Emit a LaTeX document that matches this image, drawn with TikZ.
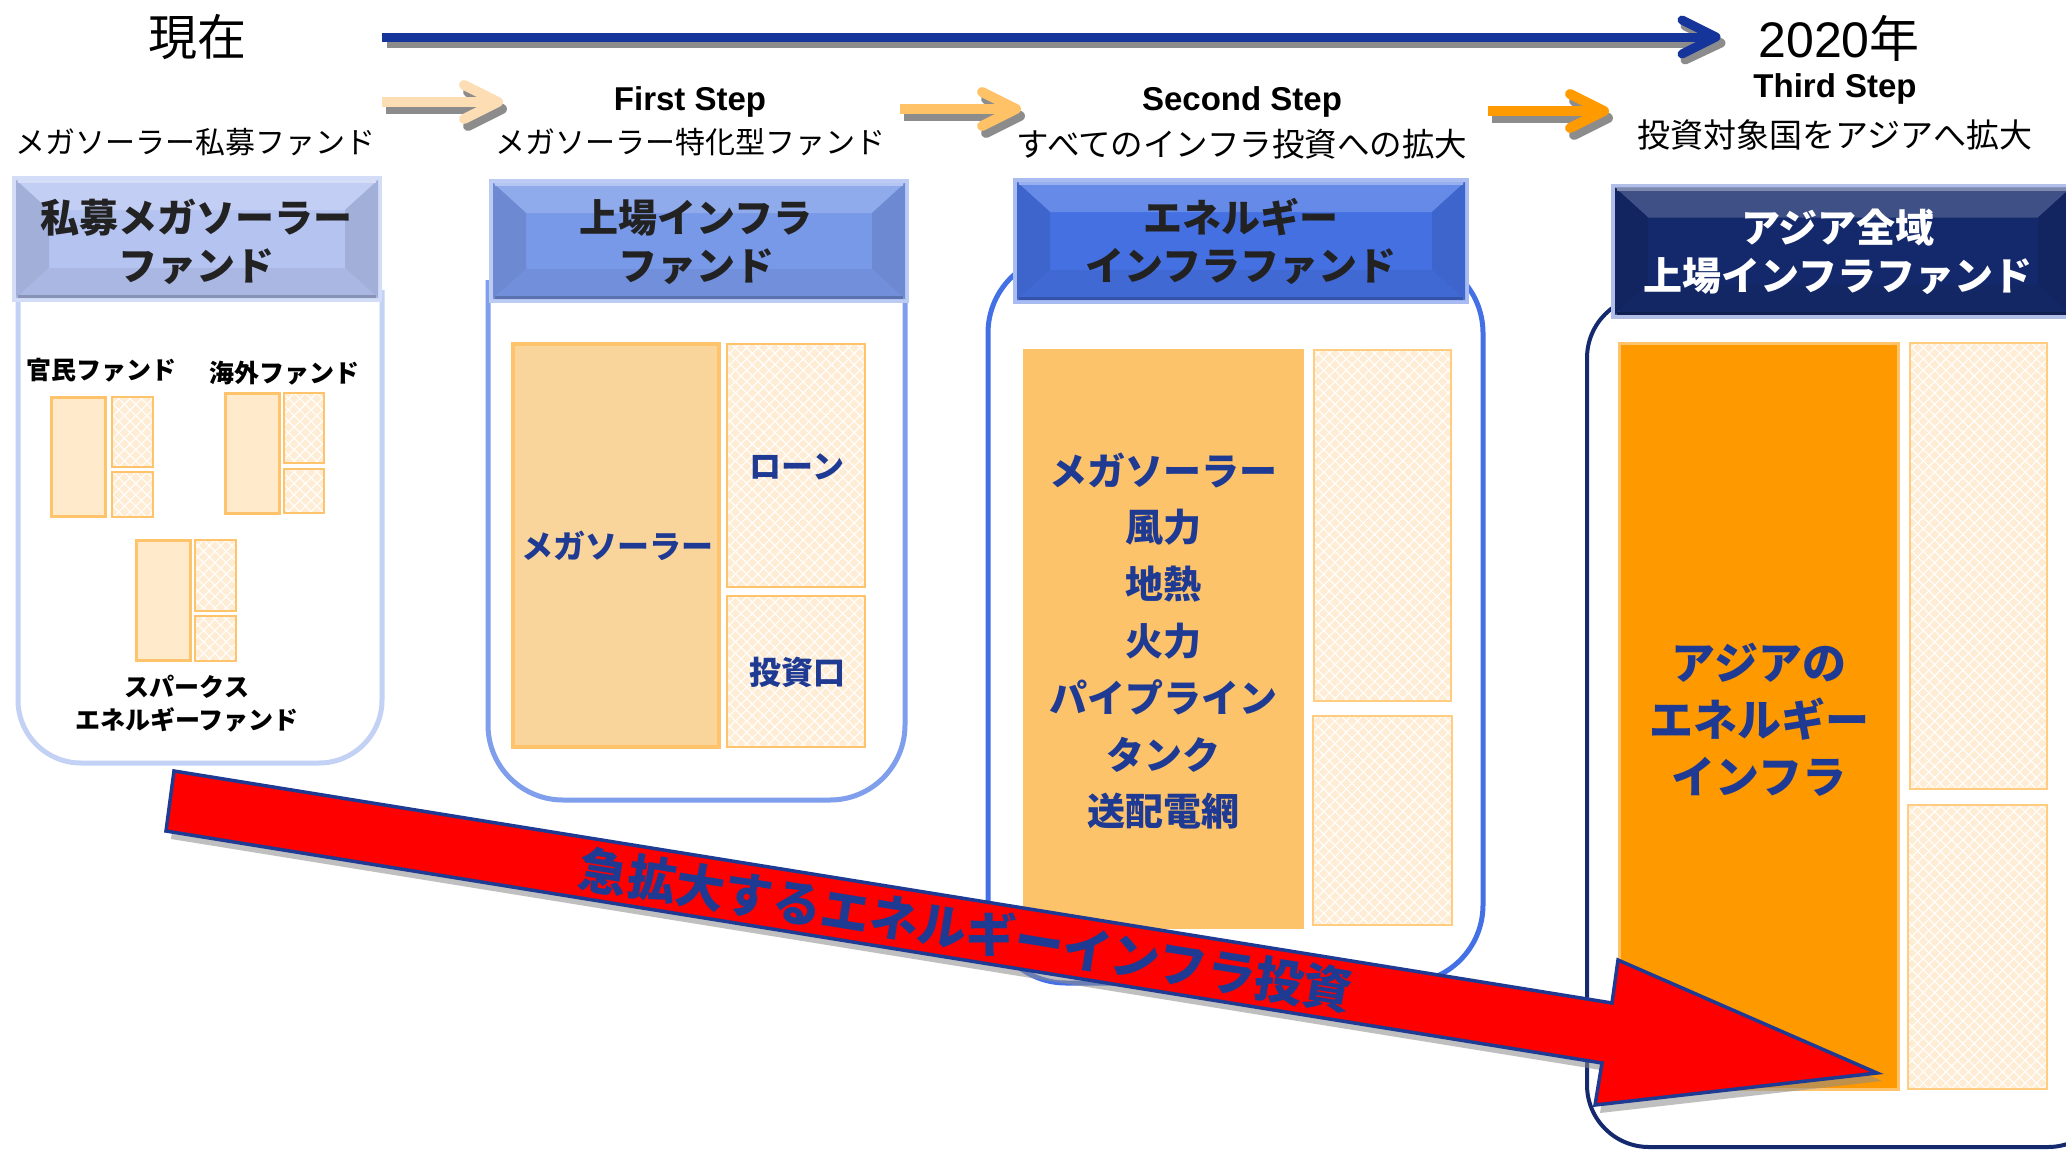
\documentclass[tikz,border=0pt]{standalone}
\usepackage{fontspec}
\setmainfont{Liberation Sans}
\newfontfamily\jp{Noto Sans CJK JP}
\usetikzlibrary{calc,patterns.meta}
\definecolor{tlblue}{HTML}{15359A}
\definecolor{shad}{HTML}{8C8C8C}
\definecolor{stepa}{HTML}{FDDDB4}
\definecolor{stepb}{HTML}{FFC266}
\definecolor{stepc}{HTML}{FF9A00}
\definecolor{txtblue}{HTML}{1F3A93}
\definecolor{hdrink}{HTML}{222222}
% header colours
\definecolor{hAm}{HTML}{B4C3F0}\definecolor{hAg}{HTML}{D3DDF8}
\definecolor{hBm}{HTML}{7898E8}\definecolor{hBg}{HTML}{BCCBF4}
\definecolor{hCm}{HTML}{4470E2}\definecolor{hCg}{HTML}{A8BCF2}
\definecolor{hDm}{HTML}{14296C}\definecolor{hDg}{HTML}{B0BEE8}
% container borders
\definecolor{cA}{HTML}{C3D1F5}
\definecolor{cB}{HTML}{7F9EEC}
\definecolor{cC}{HTML}{4470E6}
\definecolor{cD}{HTML}{14296E}
% boxes
\definecolor{boxbd}{HTML}{FFC46B}
\definecolor{boxlt}{HTML}{FFEACC}
\definecolor{boxmid}{HTML}{FAD59B}
\definecolor{boxstr}{HTML}{FDC36B}
\definecolor{boxor}{HTML}{FF9900}
\definecolor{hatchbase}{HTML}{FEECD4}
\definecolor{hatchbd}{HTML}{FFCC80}

% bevel of a header node: #1 node, #2 main colour
\newcommand{\hdrbevel}[2]{%
  \fill[#2!82!white] (#1.north west) -- (#1.north east) -- ($(#1.north east)+(-33,30)$) -- ($(#1.north west)+(33,30)$) -- cycle;
  \fill[#2!90!black] (#1.north west) -- ($(#1.north west)+(33,30)$) -- ($(#1.south west)+(33,-30)$) -- (#1.south west) -- cycle;
  \fill[#2!90!black] (#1.north east) -- ($(#1.north east)+(-33,30)$) -- ($(#1.south east)+(-33,-30)$) -- (#1.south east) -- cycle;
  \fill[#2!94!black] (#1.south west) -- ($(#1.south west)+(33,-30)$) -- ($(#1.south east)+(-33,-30)$) -- (#1.south east) -- cycle;
  \draw[#2!55!white, line width=3pt] ($(#1.north west)+(2,1.5)$) -- ($(#1.north east)+(-2,1.5)$);
  \draw[#2!75!black, line width=3pt] ($(#1.south west)+(2,-1.5)$) -- ($(#1.south east)+(-2,-1.5)$);
}

\begin{document}
\begin{tikzpicture}[x=1pt,y=-1pt,
  lbl/.style={inner sep=0pt, outer sep=0pt},
  toptxt/.style={lbl, font=\jp\fontsize{30}{36}\selectfont},
  steptxt/.style={lbl, anchor=base, font=\bfseries\fontsize{33}{40}\selectfont},
  hdrtxt/.style={lbl, align=center, font=\jp\bfseries\fontsize{39}{48}\selectfont, text=hdrink},
  hdr/.style={inner sep=0pt, outer sep=0pt, line width=8pt},
  sz/.style 2 args={minimum width=#1pt, minimum height=#2pt},
  cont/.style={fill=white, line width=5pt},
  ltbox/.style={fill=boxlt, draw=boxbd, line width=3pt, inner sep=0pt, outer sep=0pt},
  hatched/.style={preaction={fill=hatchbase},
     preaction={pattern={Lines[angle=45,distance=8pt,line width=1.1pt]}, pattern color=white},
     pattern={Lines[angle=-45,distance=8pt,line width=1.1pt]}, pattern color=white},
  htbox/.style={hatched, draw=boxbd, line width=2.5pt, inner sep=0pt, outer sep=0pt},
  htbox2/.style={hatched, draw=hatchbd, line width=2.5pt, inner sep=0pt, outer sep=0pt},
  p1lbl/.style={lbl, font=\jp\bfseries\fontsize{25}{33}\selectfont, text=black},
  intxt/.style={lbl, align=center, text=txtblue},
  tline/.style={draw=tlblue, line width=9pt},
  tshad/.style={draw=shad, line width=9pt},
  stepline/.style={line width=10pt, line join=round},
  arrowtxt/.style={lbl, font=\jp\bfseries\fontsize{49}{49}\selectfont, text=txtblue}
]
\fill[white] (0,0) rectangle (2066,1151);
\useasboundingbox (0,0) rectangle (2066,1151);

% ---------- top texts ----------
\node[lbl, font=\jp\fontsize{49}{49}\selectfont] (now) at (197,37) {現在};
\node[lbl, anchor=base, font=\fontsize{50}{50}\selectfont] (y2020) at (1839,57) {2020{\jp 年}};

\node[toptxt] (s0) at (195,142) {メガソーラー私募ファンド};
\node[steptxt] (s1h) at (690,110) {First Step};
\node[toptxt] (s1) at (690,142) {メガソーラー特化型ファンド};
\node[steptxt] (s2h) at (1242,110) {Second Step};
\node[toptxt, font=\jp\fontsize{32.5}{36}\selectfont] (s2) at (1242,144) {すべてのインフラ投資への拡大};
\node[steptxt] (s3h) at (1835,97) {Third Step};
\node[toptxt, font=\jp\fontsize{33}{36}\selectfont] (s3) at (1835,135) {投資対象国をアジアへ拡大};

% ---------- timeline arrow ----------
\coordinate (t0) at (382,37);
\coordinate (t1) at (1716,37);
\draw[tshad] ($(t0)+(5,6)$) -- ($(t1)+(0,6)$);
\draw[tshad, line join=round, line cap=round] ($(t1)+(-31,-11)$) -- ($(t1)+(5,6)$) -- ($(t1)+(-31,23)$);
\draw[tline] (t0) -- ($(t1)+(-4,0)$);
\draw[tline, line join=round, line cap=round] ($(t1)+(-34,-17)$) -- (t1) -- ($(t1)+(-34,17)$);

% ---------- step arrows ----------
\coordinate (a1s) at (382,102); \coordinate (a1e) at (498,102);
\coordinate (a2s) at (900,109); \coordinate (a2e) at (1016,109);
\coordinate (a3s) at (1488,111); \coordinate (a3e) at (1604,111);
\foreach \s/\e/\c in {a1s/a1e/stepa, a2s/a2e/stepb, a3s/a3e/stepc}{
  \draw[stepline, draw=shad] ($(\s)+(4,7)$) -- ($(\e)+(0,7)$);
  \draw[stepline, draw=shad, line cap=round] ($(\e)+(-30,-10)$) -- ($(\e)+(4,7)$) -- ($(\e)+(-30,24)$);
  \draw[stepline, draw=\c] (\s) -- ($(\e)+(-4,0)$);
  \draw[stepline, draw=\c, line cap=round] ($(\e)+(-34,-17)$) -- (\e) -- ($(\e)+(-34,17)$);
}

% ---------- containers ----------
\filldraw[cont, draw=cA] (18,290) {[rounded corners=63pt] -- (18,763) -- (382,763) -- (382,290)};
\filldraw[cont, draw=cB] (488,280) {[rounded corners=75pt] -- (488,800) -- (905,800) -- (905,280)};
\filldraw[cont, draw=cC, rounded corners=78pt] (988,255) rectangle (1483,983);
\filldraw[cont, draw=cD, line width=4pt, rounded corners=62pt] (1587,296) rectangle (2110,1147);

% ---------- headers ----------
\node[hdr, fill=hAm, draw=hAg, sz={362}{118}] (h1) at (197,239) {};
\hdrbevel{h1}{hAm}
\node[hdrtxt] (h1t) at (196,242) {私募メガソーラー\\ファンド};

\node[hdr, fill=hBm, draw=hBg, sz={412}{116}] (h2) at (699,241) {};
\hdrbevel{h2}{hBm}
\node[hdrtxt] (h2t) at (696,242) {上場インフラ\\ファンド};

\node[hdr, fill=hCm, draw=hCg, sz={448}{118}] (h3) at (1241,241) {};
\hdrbevel{h3}{hCm}
\node[hdrtxt] (h3t) at (1241,241) {エネルギー\\インフラファンド};

\node[hdr, fill=hDm, draw=hDg, sz={456}{127}] (h4) at (1843,251) {};
\hdrbevel{h4}{hDm}
\node[hdrtxt, text=white] (h4t) at (1838,252) {アジア全域\\上場インフラファンド};

% ---------- panel 1 ----------
\node[p1lbl] (l1) at (101,370) {官民ファンド};
\node[p1lbl] (l2) at (284,373) {海外ファンド};
\node[p1lbl, align=center] (l3) at (187,704) {スパークス\\エネルギーファンド};

\node[ltbox, sz={54}{119}] (a1) at (78,456.5) {};
\node[htbox, sz={41}{70}] (a2) at (132.5,432) {};
\node[htbox, sz={41}{45}] (a3) at (132.5,494.5) {};
\node[ltbox, sz={54}{120}] (b1) at (252,453) {};
\node[htbox, sz={40}{70}] (b2) at (304,428) {};
\node[htbox, sz={40}{44}] (b3) at (304,491) {};
\node[ltbox, sz={54}{120}] (c1) at (163,600) {};
\node[htbox, sz={41}{71}] (c2) at (215.5,575.5) {};
\node[htbox, sz={41}{45}] (c3) at (215.5,638.5) {};

% ---------- panel 2 ----------
\node[ltbox, fill=boxmid, draw=boxbd, line width=4pt, sz={206}{403}] (m2) at (616,545.5) {};
\node[htbox, sz={138}{243}] (loan) at (796,465.5) {};
\node[htbox, sz={138}{151}] (unit) at (796,671.5) {};
\node[intxt, font=\jp\bfseries\fontsize{32}{36}\selectfont] (m2t) at (617,546) {メガソーラー};
\node[intxt, font=\jp\bfseries\fontsize{32}{36}\selectfont] (loant) at (797,467) {ローン};
\node[intxt, font=\jp\bfseries\fontsize{32}{36}\selectfont] (unitt) at (797,672) {投資口};

% ---------- panel 3 ----------
\node[lbl, fill=boxstr, sz={281}{580}] (m3) at (1163.5,639) {};
\node[htbox2, sz={137}{351}] (r3a) at (1382.5,525.5) {};
\node[htbox2, sz={139}{209}] (r3b) at (1382.5,820.5) {};
\node[intxt, font=\jp\bfseries\fontsize{38}{56.8}\selectfont] (m3t) at (1163,641) {メガソーラー\\風力\\地熱\\火力\\パイプライン\\タンク\\送配電網};

% ---------- panel 4 ----------
\node[lbl, fill=boxor, draw=boxbd, line width=3pt, sz={279}{746}] (m4) at (1758.5,716) {};
\node[htbox2, sz={137}{446}] (r4a) at (1978.5,566) {};
\node[htbox2, sz={139}{284}] (r4b) at (1977.5,947) {};
\node[intxt, font=\jp\bfseries\fontsize{44}{57}\selectfont] (m4t) at (1759,720) {アジアの\\エネルギー\\インフラ};

% ---------- big red arrow ----------
\coordinate (ra1) at (174,771);
\coordinate (ra2) at (1612,1003);
\coordinate (ra3) at (1618,960);
\coordinate (ra4) at (1877,1073);
\coordinate (ra5) at (1595,1105);
\coordinate (ra6) at (1602,1063);
\coordinate (ra7) at (166,831);
\fill[shad, opacity=0.55] ($(ra1)+(5,8)$) -- ($(ra2)+(5,8)$) -- ($(ra3)+(5,8)$) -- ($(ra4)+(5,8)$) -- ($(ra5)+(5,8)$) -- ($(ra6)+(5,8)$) -- ($(ra7)+(5,8)$) -- cycle;
\filldraw[fill=red, draw=txtblue, line width=3.5pt, line join=miter] (ra1) -- (ra2) -- (ra3) -- (ra4) -- (ra5) -- (ra6) -- (ra7) -- cycle;
\coordinate (rm1) at (170,801);
\coordinate (rm2) at (1607,1033);
\path (rm1) -- (rm2) node[pos=0.554, sloped, arrowtxt] (rtxt) {急拡大するエネルギーインフラ投資};
\end{tikzpicture}
\end{document}
